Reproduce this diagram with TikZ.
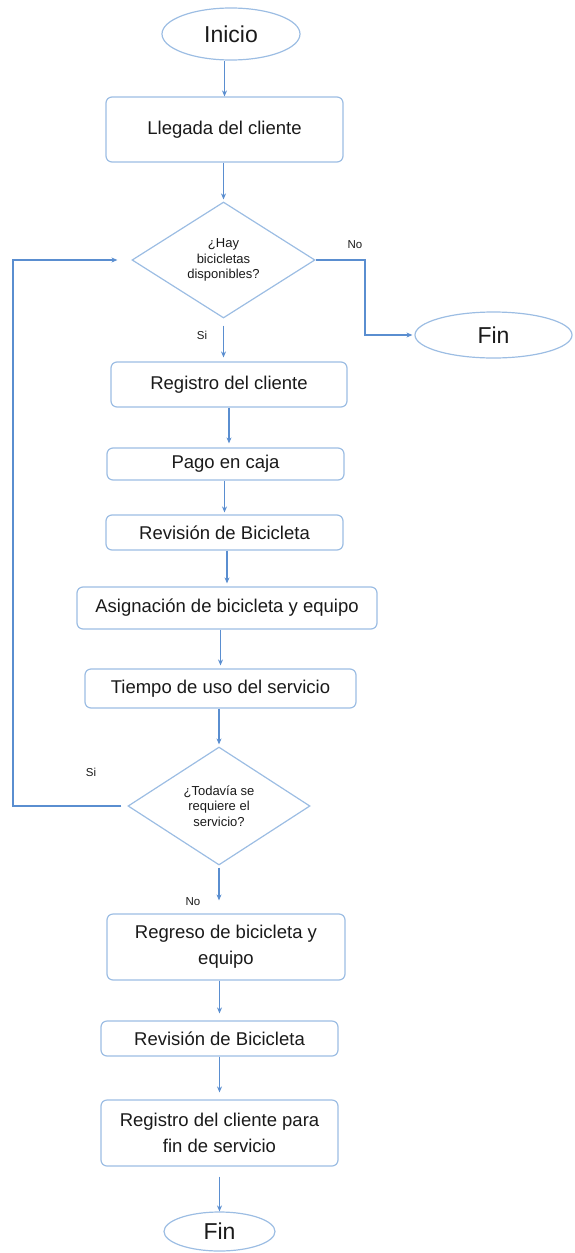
\documentclass[tikz,border=0pt]{standalone}
\usepackage{fontspec}
\setmainfont{Liberation Sans}
\usepackage{tikz}
\usetikzlibrary{shapes.geometric}
\usetikzlibrary{arrows.meta}
\definecolor{LINEBLUE}{HTML}{5A8ED0}
\definecolor{EDGEBLUE}{HTML}{9CBDE3}
\definecolor{TEXTGREY}{HTML}{1A1A1A}

\begin{document}
\begin{tikzpicture}[x=1pt, y=-1pt,
    proc/.style={draw=EDGEBLUE, line width=1.2pt, rounded corners=6pt, align=center,
        inner sep=0pt, text=TEXTGREY, font=\fontsize{18.5}{26}\selectfont},
    term/.style={ellipse, draw=EDGEBLUE, line width=1.2pt, inner sep=0pt,
        text=TEXTGREY, font=\fontsize{23}{27}\selectfont},
    decide/.style={diamond, aspect=1.58, draw=EDGEBLUE, line width=1.2pt, inner sep=0pt,
        align=center, text=TEXTGREY, font=\fontsize{13}{15.5}\selectfont},
    flow/.style={LINEBLUE, line width=1.7pt, -{Stealth[length=6pt, width=5pt]}},
    tag/.style={text=TEXTGREY, font=\fontsize{11.5}{13}\selectfont}]
    \useasboundingbox (0,0) rectangle (574,1253);

    % nodos
    \node[term, minimum width=138pt, minimum height=52pt] (inicio) at (231,34) {Inicio};
    \node[proc, minimum width=237pt, minimum height=65pt] (llegada) at (224.5,129.5) {Llegada del cliente};
    \node[decide, minimum width=183pt, minimum height=116pt] (hay) at (223.5,260) {¿Hay\\bicicletas\\disponibles?};
    \node[term, minimum width=157pt, minimum height=46pt] (finA) at (493.5,335) {Fin};
    \node[proc, minimum width=236pt, minimum height=45pt] (registro) at (229,384.5) {Registro del cliente};
    \node[proc, minimum width=237pt, minimum height=32pt] (pago) at (225.5,464) {Pago en caja};
    \node[proc, minimum width=237pt, minimum height=35pt] (revisionA) at (224.5,532.5) {Revisión de Bicicleta};
    \node[proc, minimum width=300pt, minimum height=42pt] (asigna) at (227,608) {Asignación de bicicleta y equipo};
    \node[proc, minimum width=271pt, minimum height=39pt] (tiempo) at (220.5,688.5) {Tiempo de uso del servicio};
    \node[decide, minimum width=182pt, minimum height=118pt] (todavia) at (219,806) {¿Todavía se\\requiere el\\servicio?};
    \node[proc, minimum width=238pt, minimum height=66pt] (regreso) at (226,947) {Regreso de bicicleta y\\equipo};
    \node[proc, minimum width=237pt, minimum height=35pt] (revisionB) at (219.5,1038.5) {Revisión de Bicicleta};
    \node[proc, minimum width=237pt, minimum height=66pt] (regfin) at (219.5,1133) {Registro del cliente para\\fin de servicio};
    \node[term, minimum width=111pt, minimum height=39pt] (finB) at (219.5,1231.5) {Fin};

    % etiquetas
    \node[tag] (noA) at (355,245) {No};
    \node[tag] (siA) at (202,335) {Si};
    \node[tag] (siB) at (91,772) {Si};
    \node[tag] (noB) at (193,902) {No};

    \coordinate (loopx) at (13,0);
    \coordinate (nox) at (365,0);

    % flechas
    \draw[flow] (llegada.north |- inicio.south) -- (llegada.north);
    \draw[flow, shorten >=2pt] (hay.north |- llegada.south) -- (hay.north);
    \draw[flow, shorten <=7pt, shorten >=4pt] (hay.south) -- (hay.south |- registro.north);
    \draw[flow, shorten >=2pt] (hay.east) -| (nox |- finA.west) -- (finA.west);
    \draw[flow, shorten >=4pt] (registro.south) -- (registro.south |- pago.north);
    \draw[flow, shorten >=2pt] (revisionA.north |- pago.south) -- (revisionA.north);
    \draw[flow, shorten >=3pt] (asigna.north |- revisionA.south) -- (asigna.north);
    \draw[flow, shorten >=3pt] (tiempo.north |- asigna.south) -- (tiempo.north);
    \draw[flow, shorten >=2pt] (todavia.north |- tiempo.south) -- (todavia.north);
    \draw[flow, shorten <=2pt, shorten >=13pt] (todavia.south) -- (todavia.south |- regreso.north);
    \draw[flow, shorten <=6pt, shorten >=14pt] (todavia.west) -- (todavia.west -| loopx) |- (hay.west);
    \draw[flow, shorten >=7pt] (revisionB.north |- regreso.south) -- (revisionB.north);
    \draw[flow, shorten >=7pt] (regfin.north |- revisionB.south) -- (regfin.north);
    \draw[flow, shorten <=10pt] (regfin.south) -- (finB.north);
\end{tikzpicture}
\end{document}
